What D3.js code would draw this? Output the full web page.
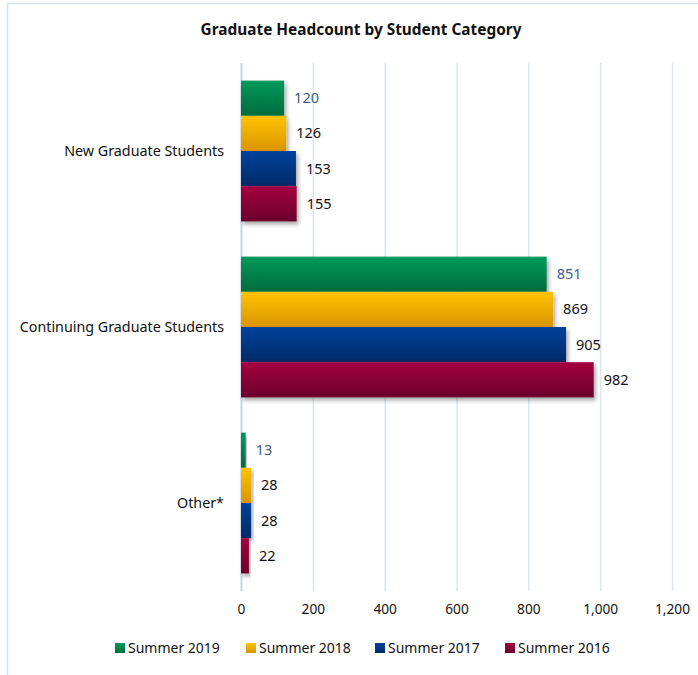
<!DOCTYPE html>
<html>
<head>
<meta charset="utf-8">
<script src="https://cdn.jsdelivr.net/npm/d3@7"></script>
<style>
  body { margin: 0; background: #fff; }
  text { font-family: "Noto Sans", "Open Sans", sans-serif; }
</style>
</head>
<body>
<div id="chart"></div>
<script>
// chart data
const categories = ["New Graduate Students", "Continuing Graduate Students", "Other*"];
const seriesNames = ["Summer 2019", "Summer 2018", "Summer 2017", "Summer 2016"];
const summer2019 = [120, 851, 13];
const summer2018 = [126, 869, 28];
const summer2017 = [153, 905, 28];
const summer2016 = [155, 982, 22];
const xTicks = [0, 200, 400, 600, 800, 1000, 1200];

const seriesValues = [summer2019, summer2018, summer2017, summer2016];
// top / bottom colours of each bar gradient
const colors = [
    ["#009a5c", "#006b3e"],
    ["#ffc300", "#d99500"],
    ["#00429c", "#002a68"],
    ["#a3003f", "#6a002c"]
];
const labelColors = ["#3d5b8a", "#111", "#111", "#111"];

const width = 698, height = 675;

let svg = d3.select("#chart").append("svg")
    .attr("width", width)
    .attr("height", height);

let defs = svg.append("defs");
colors.forEach(function (c, i) {
    let g = defs.append("linearGradient")
        .attr("id", "grad" + i)
        .attr("x1", 0).attr("y1", 0)
        .attr("x2", 0).attr("y2", 1);
    g.append("stop").attr("offset", "0%").attr("stop-color", c[0]);
    g.append("stop").attr("offset", "100%").attr("stop-color", c[1]);
});
defs.append("filter")
    .attr("id", "shadow")
    .attr("x", "-20%").attr("y", "-20%")
    .attr("width", "140%").attr("height", "140%")
    .append("feDropShadow")
    .attr("dx", 2).attr("dy", 3)
    .attr("stdDeviation", 2)
    .attr("flood-color", "#000")
    .attr("flood-opacity", 0.35);

// outer chart border (only top and left show)
svg.append("rect")
    .attr("x", 7.5).attr("y", 3.5)
    .attr("width", 720).attr("height", 700)
    .attr("fill", "none")
    .attr("stroke", "#d6e2f1")
    .attr("stroke-width", 1.5);

svg.append("text")
    .attr("x", 361)
    .attr("y", 35)
    .attr("text-anchor", "middle")
    .style("font-weight", "bold")
    .style("font-size", "15.4px")
    .style("fill", "#111")
    .text("Graduate Headcount by Student Category");

let plot = { top: 63, bottom: 591, left: 241, right: 672 };

let x = d3.scaleLinear()
    .domain([0, 1200])
    .range([plot.left, plot.right]);

let y = d3.scaleBand()
    .domain(categories)
    .range([plot.top, plot.bottom])
    .paddingInner(0.2)
    .paddingOuter(0.1);

let ySub = d3.scaleBand()
    .domain(d3.range(seriesNames.length))
    .range([0, y.bandwidth()]);

// gridlines + tick labels
let xAxis = svg.append("g")
    .attr("transform", "translate(0," + plot.bottom + ")")
    .call(d3.axisBottom(x)
        .tickValues(xTicks)
        .tickFormat(d3.format(","))
        .tickSizeInner(-(plot.bottom - plot.top))
        .tickSizeOuter(0)
        .tickPadding(13));
xAxis.select(".domain").remove();
xAxis.selectAll(".tick line")
    .attr("stroke", function (d) { return d === 0 ? "#c3d5ec" : "#dbe6f3"; })
    .attr("stroke-width", function (d) { return d === 0 ? 2 : 1.5; });
xAxis.selectAll(".tick text")
    .style("font-size", "13.7px")
    .style("fill", "#111")
    .attr("font-family", null);

// category labels
svg.selectAll(".catLabel")
    .data(categories)
    .enter()
    .append("text")
    .attr("class", "catLabel")
    .attr("x", 224)
    .attr("y", function (d) { return y(d) + y.bandwidth() / 2; })
    .attr("dy", "0.35em")
    .attr("text-anchor", "end")
    .style("font-size", "14.3px")
    .style("fill", "#111")
    .text(function (d) { return d; });

// bars
let rows = [];
categories.forEach(function (c, ci) {
    seriesValues.forEach(function (vals, si) {
        rows.push({ cat: c, series: si, value: vals[ci] });
    });
});

svg.append("g")
    .selectAll("rect")
    .data(rows)
    .enter()
    .append("rect")
    .attr("x", x(0))
    .attr("y", function (d) { return y(d.cat) + ySub(d.series); })
    .attr("width", function (d) { return x(d.value) - x(0); })
    .attr("height", ySub.bandwidth())
    .attr("fill", function (d) { return "url(#grad" + d.series + ")"; })
    .attr("filter", "url(#shadow)");

svg.append("g")
    .selectAll("text")
    .data(rows)
    .enter()
    .append("text")
    .attr("x", function (d) { return x(d.value) + 10; })
    .attr("y", function (d) { return y(d.cat) + ySub(d.series) + ySub.bandwidth() / 2; })
    .attr("dy", "0.35em")
    .style("font-size", "14.5px")
    .style("fill", function (d) { return labelColors[d.series]; })
    .text(function (d) { return d.value; });

// legend
let legendX = [115, 246, 375, 505];
let legend = svg.selectAll(".legendItem")
    .data(seriesNames)
    .enter()
    .append("g")
    .attr("class", "legendItem")
    .attr("transform", function (d, i) { return "translate(" + legendX[i] + ",643)"; });

legend.append("rect")
    .attr("width", 10)
    .attr("height", 10)
    .attr("fill", function (d, i) { return "url(#grad" + i + ")"; });

legend.append("text")
    .attr("x", 13)
    .attr("y", 5)
    .attr("dy", "0.35em")
    .style("font-size", "14px")
    .style("fill", "#111")
    .text(function (d) { return d; });
</script>
</body>
</html>
